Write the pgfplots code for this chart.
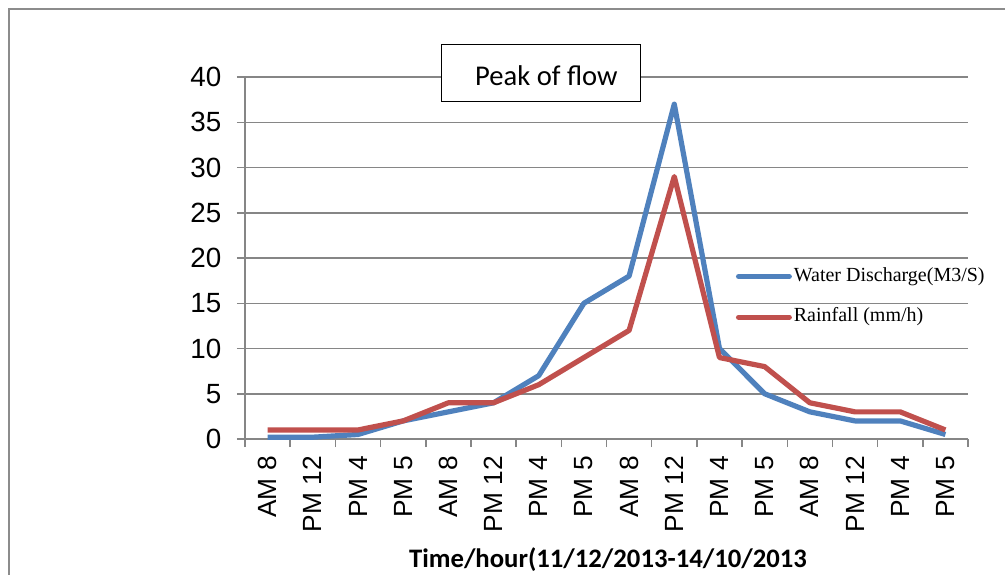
\documentclass[border=0pt]{standalone}
\usepackage{fontspec}
\setmainfont{Liberation Sans}
\newfontfamily\tnr{Liberation Serif}
\newfontfamily\calibrifont{Carlito}
\usepackage{pgfplots}
\pgfplotsset{compat=1.18}
\definecolor{cblue}{HTML}{4F81BD}
\definecolor{cred}{HTML}{C0504D}
\definecolor{gridc}{HTML}{868686}
\definecolor{framec}{HTML}{8C8C8C}
\begin{document}
\begin{tikzpicture}
\useasboundingbox (0pt,0pt) rectangle (1005pt,-574pt);
\draw[color=framec, line width=2pt] (9pt,-575pt) -- (9pt,-9pt) -- (1006pt,-9pt);
\begin{axis}[
  at={(245pt,-439pt)}, anchor=south west,
  scale only axis, width=723pt, height=362pt,
  xmin=-0.5, xmax=15.5, ymin=0, ymax=40,
  ytick={0,5,...,40},
  xtick={0,...,15},
  xticklabels={AM 8,PM 12,PM 4,PM 5,AM 8,PM 12,PM 4,PM 5,AM 8,PM 12,PM 4,PM 5,AM 8,PM 12,PM 4,PM 5},
  minor xtick={-0.5,0.5,...,15.5},
  axis x line*=bottom, axis y line*=left,
  axis line style={gridc, line width=1.5pt, -},
  tick align=outside,
  major tick length=8pt, minor tick length=8pt,
  tick style={gridc, line width=1.5pt},
  major x tick style={draw=none},
  ymajorgrids, grid style={gridc, line width=1.5pt},
  x tick label style={rotate=90, anchor=east, inner sep=9pt, font=\fontsize{26.3}{27}\selectfont},
  y tick label style={xshift=-7.5pt, inner sep=8pt, font=\fontsize{27.8}{28}\selectfont},
  /pgf/number format/assume math mode=true,
  legend cell align=left,
  legend style={at={(0.6791,0.4751)}, anchor=north west, draw=none, fill=none,
    inner sep=0pt, outer sep=0pt, row sep=21.7pt,
    nodes={inner sep=0pt, inner xsep=2pt, text height=14pt, text depth=5pt},
    font=\tnr\fontsize{20}{22}\selectfont},
  legend image code/.code={\draw[#1, line cap=round] (2.5pt,0pt) -- (53.2pt,0pt);},
  clip=false,
]
\addplot[color=cblue, line width=5.2pt, line join=round] coordinates {
 (0,0.2) (1,0.2) (2,0.5) (3,2) (4,3) (5,4) (6,7) (7,15) (8,18) (9,37) (10,10) (11,5) (12,3) (13,2) (14,2) (15,0.5)};
\addlegendentry{Water Discharge(M3/S)}
\addplot[color=cred, line width=5.2pt, line join=round] coordinates {
 (0,1) (1,1) (2,1) (3,2) (4,4) (5,4) (6,6) (7,9) (8,12) (9,29) (10,9) (11,8) (12,4) (13,3) (14,3) (15,1)};
\addlegendentry{Rainfall (mm/h)}
\end{axis}
\draw[black, line width=1.5pt, fill=white] (441.5pt,-44.5pt) rectangle (640.5pt,-101.5pt);
\node[anchor=base west, inner sep=0pt, font=\calibrifont\fontsize{28.6}{30}\selectfont] at (475pt,-85pt) {Peak of flow};
\node[anchor=base, inner sep=0pt, font=\calibrifont\bfseries\fontsize{26.7}{28}\selectfont] at (608pt,-567pt) {Time/hour(11/12/2013-14/10/2013};
\end{tikzpicture}
\end{document}
